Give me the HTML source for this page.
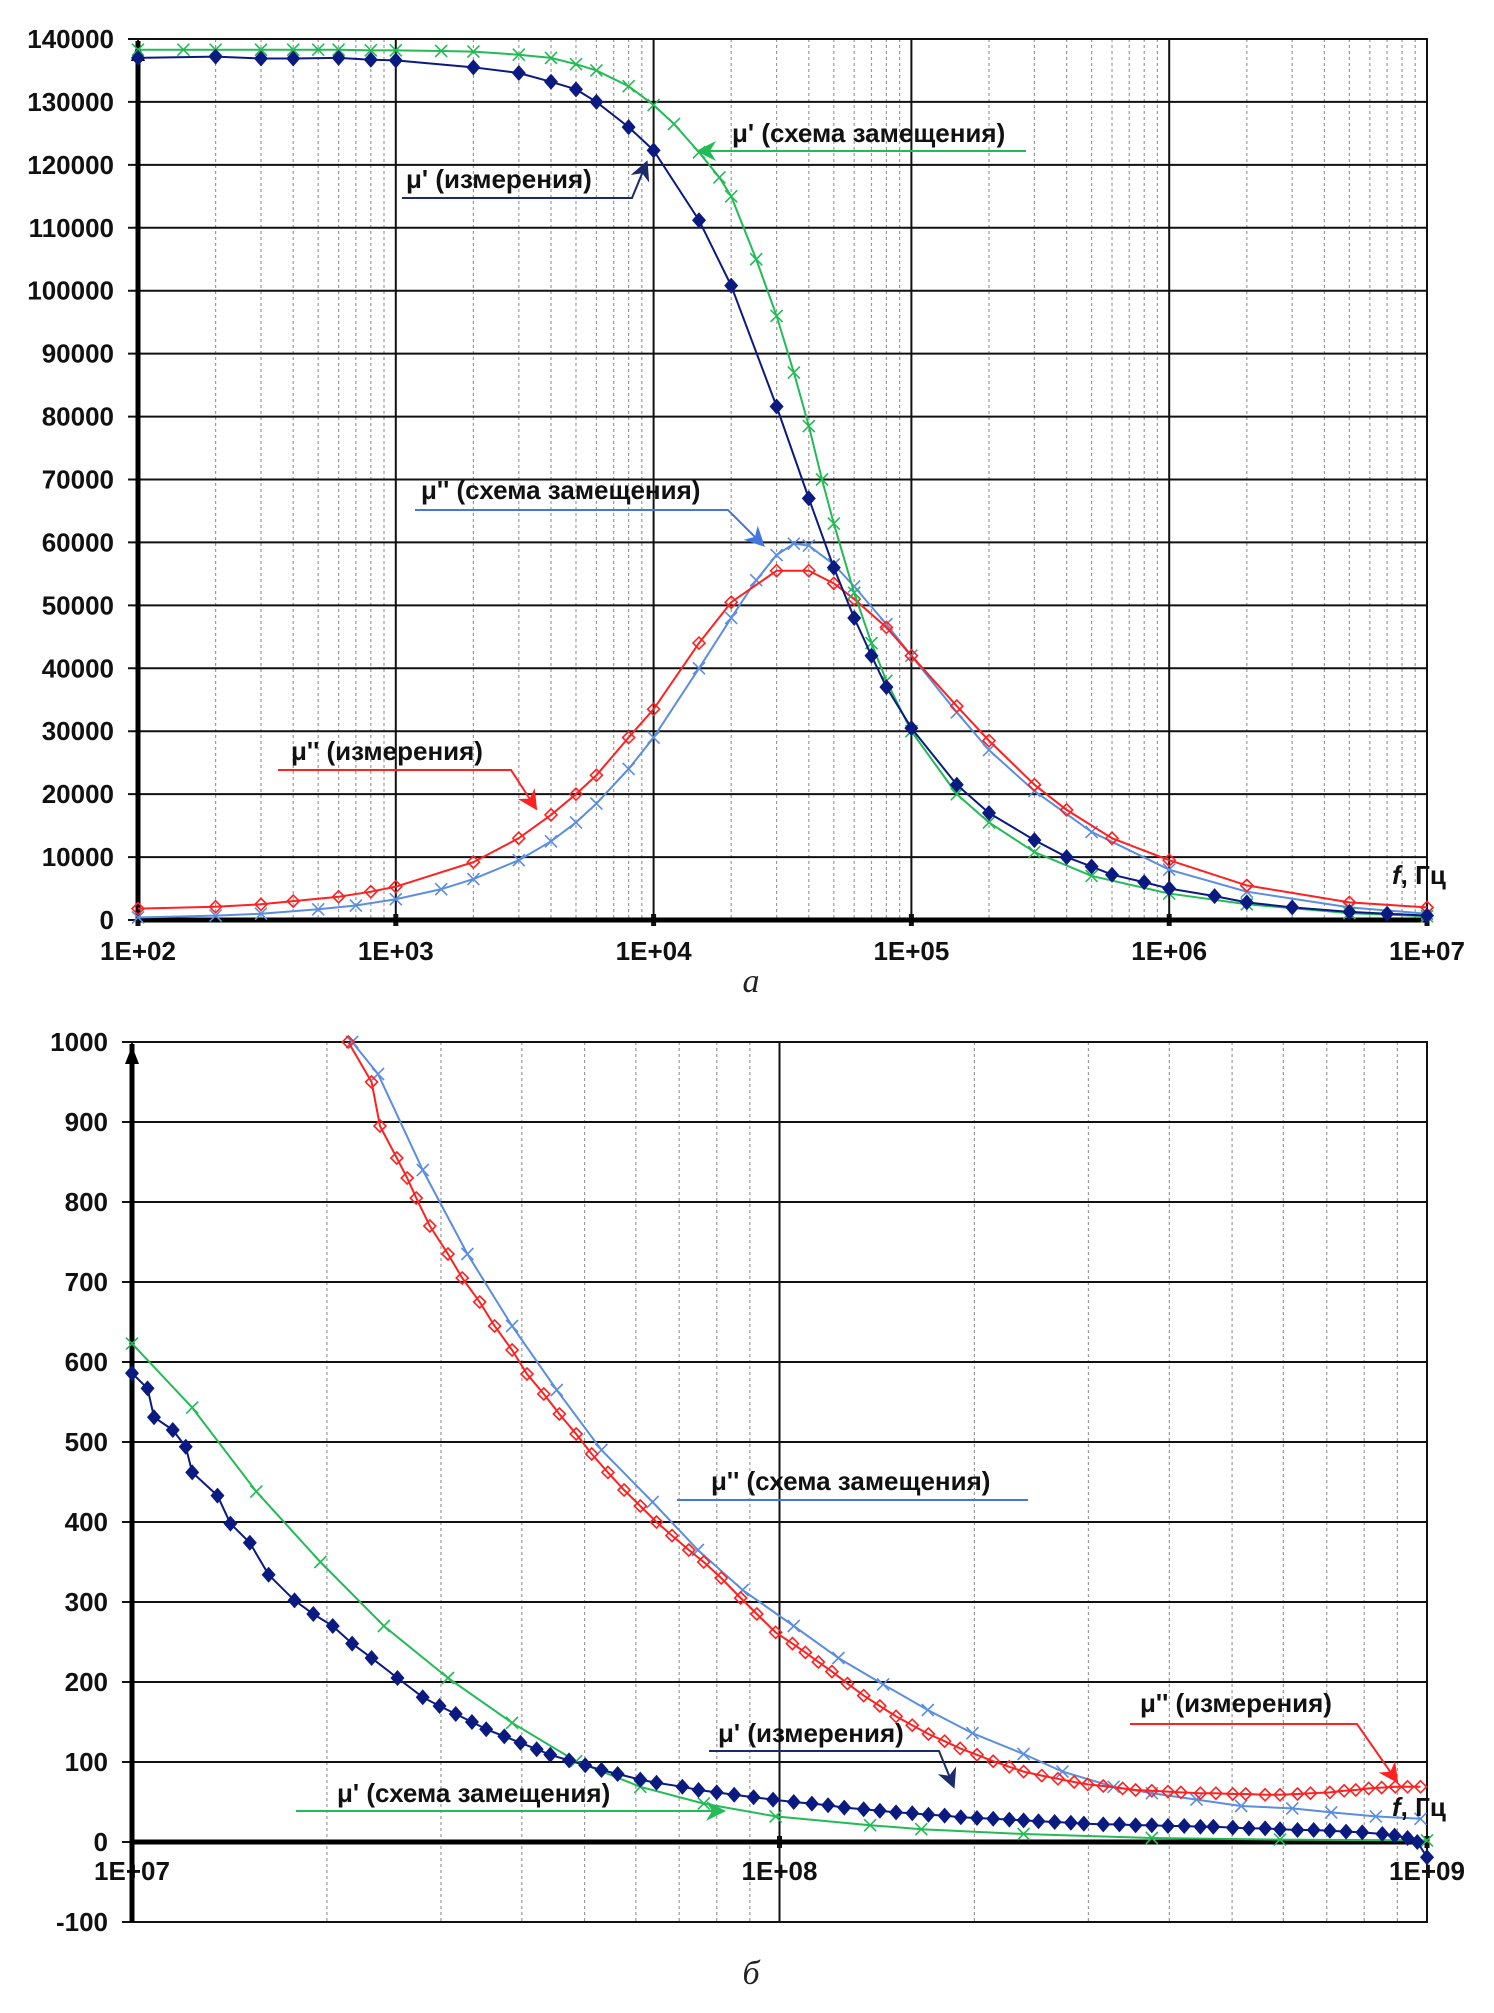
<!DOCTYPE html>
<html><head><meta charset="utf-8">
<style>
html,body{margin:0;padding:0;background:#fff;}
svg{display:block;}
text{font-family:"Liberation Sans",Arial,sans-serif;}
.tick{font-size:26px;font-weight:bold;fill:#111;}
.ann{font-size:26px;font-weight:bold;fill:#111;}
.cap{font-family:"Liberation Serif",serif;font-style:italic;font-size:34px;fill:#222;}
</style></head>
<body>
<svg id="chart" width="1494" height="2013" viewBox="0 0 1494 2013" xmlns="http://www.w3.org/2000/svg">
<defs>
<marker id="arrB" markerWidth="10" markerHeight="10" refX="8" refY="5" orient="auto"><path d="M0,0 L10,5 L0,10 L3,5 Z" fill="#1a2a6a"/></marker>
<marker id="arrG" markerWidth="10" markerHeight="10" refX="8" refY="5" orient="auto"><path d="M0,0 L10,5 L0,10 L3,5 Z" fill="#22bb55"/></marker>
<marker id="arrL" markerWidth="10" markerHeight="10" refX="8" refY="5" orient="auto"><path d="M0,0 L10,5 L0,10 L3,5 Z" fill="#4477dd"/></marker>
<marker id="arrR" markerWidth="10" markerHeight="10" refX="8" refY="5" orient="auto"><path d="M0,0 L10,5 L0,10 L3,5 Z" fill="#ff2222"/></marker>
</defs>
<g id="top"></g>
<g id="bot"></g>

<g>
<text class="ann" x="732" y="142">μ' (схема замещения)</text>
<line x1="1026" y1="151" x2="700" y2="151" stroke="#22bb55" stroke-width="2" marker-end="url(#arrG)"/>
</g>
<g>
<text class="ann" x="406" y="188">μ' (измерения)</text>
<polyline points="402,198 632,198 646,164" fill="none" stroke="#1a2a6a" stroke-width="2" marker-end="url(#arrB)"/>
</g>
<g>
<text class="ann" x="421" y="499">μ'' (схема замещения)</text>
<polyline points="415,510 728,510 762,544" fill="none" stroke="#4477dd" stroke-width="2" marker-end="url(#arrL)"/>
</g>
<g>
<text class="ann" x="291" y="760">μ'' (измерения)</text>
<polyline points="278,770 511,770 535,807" fill="none" stroke="#ff2222" stroke-width="2" marker-end="url(#arrR)"/>
</g>
<text class="ann" x="1392" y="884"><tspan font-style="italic">f</tspan>, Гц</text>
<text class="cap" x="751" y="992" text-anchor="middle">а</text>

<g>
<text class="ann" x="711" y="1490">μ'' (схема замещения)</text>
<line x1="1028" y1="1500" x2="677" y2="1500" stroke="#4477dd" stroke-width="2"/>
</g>
<g>
<text class="ann" x="1140" y="1712">μ'' (измерения)</text>
<polyline points="1130,1724 1357,1724 1396,1780" fill="none" stroke="#ff2222" stroke-width="2" marker-end="url(#arrR)"/>
</g>
<g>
<text class="ann" x="718" y="1742">μ' (измерения)</text>
<polyline points="709,1751 939,1751 953,1785" fill="none" stroke="#1a2a6a" stroke-width="2" marker-end="url(#arrB)"/>
</g>
<g>
<text class="ann" x="337" y="1802">μ' (схема замещения)</text>
<line x1="296" y1="1811" x2="722" y2="1811" stroke="#22bb55" stroke-width="2" marker-end="url(#arrG)"/>
</g>
<text class="ann" x="1392" y="1816"><tspan font-style="italic">f</tspan>, Гц</text>
<text class="cap" x="751" y="1984" text-anchor="middle">б</text>
</svg>
<script>
// ---------- Chart a data ----------
const aMu1MeasF = [100,200,300,400,600,800,1000,2000,3000,4000,5000,6000,8000,10000,15000,20000,30000,40000,50000,60000,70000,80000,100000,150000,200000,300000,400000,500000,600000,800000,1000000,1500000,2000000,3000000,5000000,7000000,10000000];
const aMu1MeasV = [137000,137200,136900,136900,137000,136700,136600,135500,134600,133200,132000,130000,126000,122300,111200,100800,81600,67000,56000,48000,42000,37000,30500,21500,17000,12700,10000,8500,7200,6000,5000,3800,2800,2000,1300,1000,700];
const aMu1ModF = [100,150,200,300,400,500,600,800,1000,1500,2000,3000,4000,5000,6000,8000,10000,12000,15000,18000,20000,25000,30000,35000,40000,45000,50000,60000,70000,80000,100000,150000,200000,300000,500000,1000000,2000000,5000000,10000000];
const aMu1ModV = [138300,138300,138300,138300,138300,138300,138300,138200,138200,138100,138000,137500,137000,136000,135000,132500,129500,126500,122000,118000,115000,105000,96000,87000,78500,70000,63000,52000,44000,38000,30000,20000,15500,10800,7000,4200,2500,1100,600];
const aMu2MeasF = [100,200,300,400,600,800,1000,2000,3000,4000,5000,6000,8000,10000,15000,20000,30000,40000,50000,60000,80000,100000,150000,200000,300000,400000,600000,1000000,2000000,5000000,10000000];
const aMu2MeasV = [1800,2100,2500,3000,3700,4500,5300,9200,13000,16700,20000,23000,29000,33500,44000,50500,55500,55500,53500,51000,46500,42000,34000,28500,21500,17500,13000,9500,5500,2800,2000];
const aMu2ModF = [100,200,300,500,700,1000,1500,2000,3000,4000,5000,6000,8000,10000,15000,20000,25000,30000,35000,40000,50000,60000,80000,100000,150000,200000,300000,500000,1000000,2000000,5000000,10000000];
const aMu2ModV = [400,700,1000,1700,2300,3300,4900,6500,9500,12500,15500,18500,24000,29000,40000,48000,54000,58000,59800,59500,56500,53000,47000,42000,33000,27000,20500,14000,8000,4500,2000,1000];
const aYTicks = [0,10000,20000,30000,40000,50000,60000,70000,80000,90000,100000,110000,120000,130000,140000];
const aXTicks = ["1E+02","1E+03","1E+04","1E+05","1E+06","1E+07"];

// ---------- Chart b data (log10 of frequency) ----------
const bMu2ModLogF = [7.34,7.38,7.449,7.518,7.587,7.656,7.725,7.804,7.874,7.943,8.022,8.091,8.16,8.229,8.298,8.377,8.437,8.516,8.575,8.644,8.713,8.792,8.852,8.921,8.99];
const bMu2ModV = [1000,960,840,735,645,565,490,425,365,315,270,230,197,165,136,110,88,69,61,53,45,42,37,32,29];
const bMu2MeasLogF = [7.334,7.37,7.383,7.409,7.425,7.439,7.46,7.488,7.51,7.537,7.56,7.587,7.61,7.636,7.66,7.686,7.71,7.735,7.76,7.785,7.81,7.834,7.86,7.883,7.91,7.94,7.965,7.994,8.02,8.04,8.06,8.081,8.105,8.13,8.155,8.18,8.205,8.23,8.255,8.279,8.305,8.33,8.355,8.377,8.405,8.43,8.455,8.476,8.5,8.53,8.55,8.575,8.6,8.62,8.65,8.674,8.7,8.72,8.75,8.773,8.8,8.82,8.85,8.872,8.89,8.91,8.93,8.951,8.97,8.99];
const bMu2MeasV = [1000,950,895,855,830,805,770,735,705,675,645,615,585,560,535,510,485,462,440,420,400,383,365,350,330,305,285,262,248,237,225,213,198,183,170,157,146,135,126,117,109,101,94,88,83,79,75,72,70,67,65,64,63,62,61,61,60,60,59,59,60,61,62,64,65,67,68,69,69,69];
const bMu1MeasLogF = [7,7.024,7.034,7.063,7.083,7.093,7.132,7.152,7.182,7.211,7.251,7.28,7.31,7.34,7.37,7.41,7.449,7.475,7.5,7.525,7.547,7.575,7.6,7.625,7.646,7.675,7.7,7.725,7.75,7.785,7.81,7.85,7.875,7.903,7.93,7.96,7.99,8.022,8.05,8.075,8.1,8.13,8.155,8.18,8.205,8.23,8.255,8.28,8.305,8.33,8.355,8.377,8.4,8.425,8.45,8.47,8.5,8.525,8.55,8.575,8.6,8.625,8.65,8.67,8.7,8.725,8.75,8.773,8.8,8.825,8.85,8.875,8.9,8.931,8.95,8.97,8.985,9.0];
const bMu1MeasV = [586,567,531,515,494,462,433,398,374,334,302,285,270,248,230,205,181,170,160,150,141,132,124,116,109,102,96,90,85,78,74,69,65,62,59,56,53,50,48,46,43,41,39,37,36,34,33,31,30,29,28,27,26,25,24,23,22,22,21,21,20,20,19,19,18,17,17,16,15,15,14,13,12,10,8,5,0,-19];
const bMu1ModLogF = [7,7.093,7.192,7.291,7.389,7.488,7.587,7.686,7.785,7.883,7.994,8.14,8.219,8.377,8.575,8.773,9.0];
const bMu1ModV = [623,543,438,350,270,205,149,101,69,48,32,21,16,10,5,3,2];
const bYTicks = [-100,0,100,200,300,400,500,600,700,800,900,1000];
const bXTicks = ["1E+07","1E+08","1E+09"];

const NS = "http://www.w3.org/2000/svg";
function mk(parent, tag, attrs){
  const e = document.createElementNS(NS, tag);
  for (const k in attrs) e.setAttribute(k, attrs[k]);
  parent.appendChild(e);
  return e;
}

function drawChart(g, cfg){
  const X = lf => cfg.x0 + (lf - cfg.lmin) / (cfg.lmax - cfg.lmin) * (cfg.x1 - cfg.x0);
  const Y = v => cfg.yBase + (v - cfg.vBase) * cfg.ppu;
  const yTop = Y(cfg.vmax), yBot = Y(cfg.vmin), yZero = Y(0);
  for (let d = cfg.lmin; d < cfg.lmax; d++) {
    for (let m = 2; m <= 9; m++) {
      const x = X(d + Math.log10(m));
      const l = mk(g, "line", {x1:x, x2:x, y1:yTop, y2:yBot, stroke:"#9a9a9a", "stroke-width":1.2, "stroke-dasharray":"3,3"});
      
      
    }
  }
  cfg.yTicks.forEach(v => {
    const y = Y(v);
    const l = mk(g, "line", {x1:cfg.x0 - 10, x2:cfg.x1, y1:y, y2:y, stroke:"#111", "stroke-width":2});
    
    
    const t = mk(g, "text", {x:cfg.labelRight, y:y + 9, "text-anchor":"end", class:"tick"});
    t.textContent = v;
    
    
  });
  cfg.xTicks.forEach((lab, i) => {
    const x = X(cfg.lmin + i);
    const l = mk(g, "line", {x1:x, x2:x, y1:yTop, y2:yBot, stroke:"#111", "stroke-width":2});
    
    
    const tk = mk(g, "line", {x1:x, x2:x, y1:yZero - 6, y2:yZero + 6, stroke:"#111", "stroke-width":5});
    
    
    const t = mk(g, "text", {x:x, y:yZero + cfg.xLabelDy, "text-anchor":"middle", class:"tick"});
    t.textContent = lab;
    
    
  });
  const fr = mk(g, "rect", {x:cfg.x0, y:yTop, width:cfg.x1 - cfg.x0, height:yBot - yTop, fill:"none", stroke:"#111", "stroke-width":2});
  
  
  const ya = mk(g, "line", {x1:cfg.x0, x2:cfg.x0, y1:yTop + 2, y2:yBot, stroke:"#000", "stroke-width":5});
  
  
  const ar = mk(g, "path", {d:`M${cfg.x0-7},${yTop+22} L${cfg.x0},${yTop+4} L${cfg.x0+7},${yTop+22} Z`, fill:"#000"});
  
  
  const xa = mk(g, "line", {x1:cfg.x0, x2:cfg.x1, y1:yZero, y2:yZero, stroke:"#000", "stroke-width":5});
  
  
  cfg.series.forEach(s => {
    const pts = s.lf.map((lf, i) => X(lf) + "," + Y(s.v[i])).join(" ");
    const pl = mk(g, "polyline", {points:pts, fill:"none", stroke:s.color, "stroke-width":2});
    
    
    s.lf.forEach((lf, i) => {
      const x = X(lf), y = Y(s.v[i]);
      let m;
      if (s.marker === "fdiamond") {
        m = mk(g, "path", {d:`M${x},${y-8} L${x+7},${y} L${x},${y+8} L${x-7},${y} Z`, fill:s.color});
      } else if (s.marker === "odiamond") {
        m = mk(g, "path", {d:`M${x},${y-6} L${x+6},${y} L${x},${y+6} L${x-6},${y} Z`, fill:"none", stroke:s.color, "stroke-width":1.6});
      } else {
        m = mk(g, "path", {d:`M${x-6},${y-6} L${x+6},${y+6} M${x-6},${y+6} L${x+6},${y-6}`, stroke:s.color, "stroke-width":1.6});
      }
      
      
    });
  });
}

const lg = arr => arr.map(f => Math.log10(f));
drawChart(document.getElementById("top"), {
  x0:138, x1:1427, lmin:2, lmax:7, yBase:920, vBase:0, ppu:-881/140000,
  vmin:0, vmax:140000, yTicks:aYTicks, xTicks:aXTicks, labelRight:114, xLabelDy:40,
  series:[
    {name:"mu2-model-a", lf:lg(aMu2ModF), v:aMu2ModV, color:"#5b8de0", marker:"x"},
    {name:"mu2-meas-a", lf:lg(aMu2MeasF), v:aMu2MeasV, color:"#ff2020", marker:"odiamond"},
    {name:"mu1-model-a", lf:lg(aMu1ModF), v:aMu1ModV, color:"#22bb55", marker:"x"},
    {name:"mu1-meas-a", lf:lg(aMu1MeasF), v:aMu1MeasV, color:"#0a1a80", marker:"fdiamond"}
  ]
});
drawChart(document.getElementById("bot"), {
  x0:132, x1:1427, lmin:7, lmax:9, yBase:1842, vBase:0, ppu:-0.8,
  vmin:-100, vmax:1000, yTicks:bYTicks, xTicks:bXTicks, labelRight:108, xLabelDy:38,
  series:[
    {name:"mu2-model-b", lf:bMu2ModLogF, v:bMu2ModV, color:"#5b8de0", marker:"x"},
    {name:"mu2-meas-b", lf:bMu2MeasLogF, v:bMu2MeasV, color:"#ff2020", marker:"odiamond"},
    {name:"mu1-model-b", lf:bMu1ModLogF, v:bMu1ModV, color:"#22bb55", marker:"x"},
    {name:"mu1-meas-b", lf:bMu1MeasLogF, v:bMu1MeasV, color:"#0a1a80", marker:"fdiamond"}
  ]
});
</script>
</body></html>
